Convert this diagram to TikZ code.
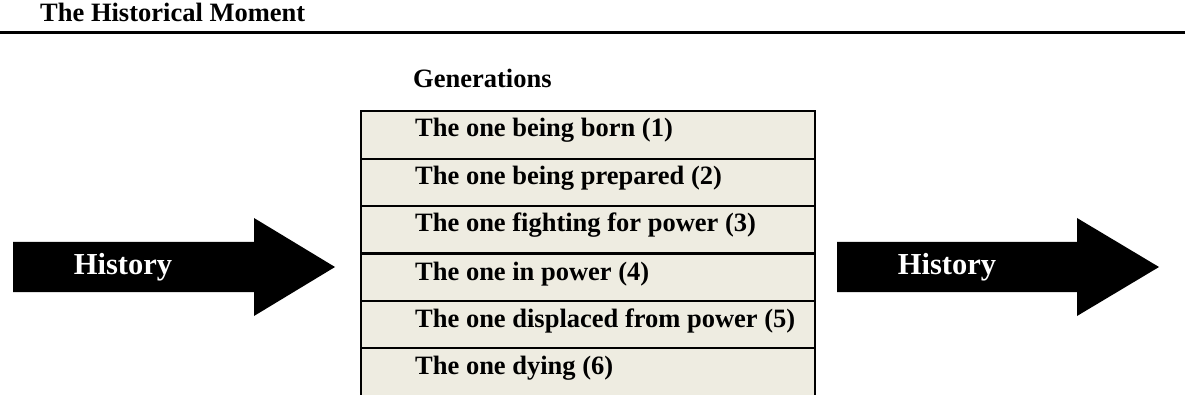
\documentclass[tikz,border=0pt]{standalone}
\usepackage{fontspec}
\setmainfont{Liberation Serif}
\definecolor{tablebg}{HTML}{EEECE1}
\tikzset{
  txt/.style={inner sep=0pt, anchor=base west, font=\fontsize{26.5}{30}\selectfont\bfseries},
  arrowtxt/.style={inner sep=0pt, anchor=base, text=white, font=\fontsize{30.5}{34}\selectfont\bfseries},
  thinline/.style={line width=1.2pt},
  thickline/.style={line width=2.4pt},
  bigarrow/.style={fill=black}
}
\begin{document}
\begin{tikzpicture}[x=1pt,y=-1pt]
\useasboundingbox (0,0) rectangle (1185,395);
% header
\node[txt] (title) at (40,22) {The Historical Moment};
\coordinate (ruleL) at (0,32.5);
\coordinate (ruleR) at (1185,32.5);
\draw[line width=2.4pt] (ruleL) -- (ruleR);
% table
\node[txt] (gen) at (413,88) {Generations};
\fill[tablebg] (361,111) rectangle (815,395);
\draw[thinline] (361,159) -- (815,159);
\draw[thinline] (361,206) -- (815,206);
\draw[thickline] (361,253.5) -- (815,253.5);
\draw[thinline] (361,301) -- (815,301);
\draw[thinline] (361,348) -- (815,348);
\draw[thickline] (361,395) -- (361,111) -- (815,111) -- (815,395);
\node[txt] (r1) at (415,137) {The one being born (1)};
\node[txt] (r2) at (415,185) {The one being prepared (2)};
\node[txt] (r3) at (415,232) {The one fighting for power (3)};
\node[txt] (r4) at (415,280) {The one in power (4)};
\node[txt] (r5) at (415,327) {The one displaced from power (5)};
\node[txt] (r6) at (415,374) {The one dying (6)};
% left arrow
\fill[bigarrow] (13,242) -- (254,242) -- (254,218) -- (335,267) -- (254,316) -- (254,292) -- (13,292) -- cycle;
\node[arrowtxt] (hl) at (123,274) {History};
% right arrow
\fill[bigarrow] (837,242) -- (1077,242) -- (1077,218) -- (1159,267) -- (1077,316) -- (1077,292) -- (837,292) -- cycle;
\node[arrowtxt] (hr) at (947,274) {History};
\end{tikzpicture}
\end{document}
